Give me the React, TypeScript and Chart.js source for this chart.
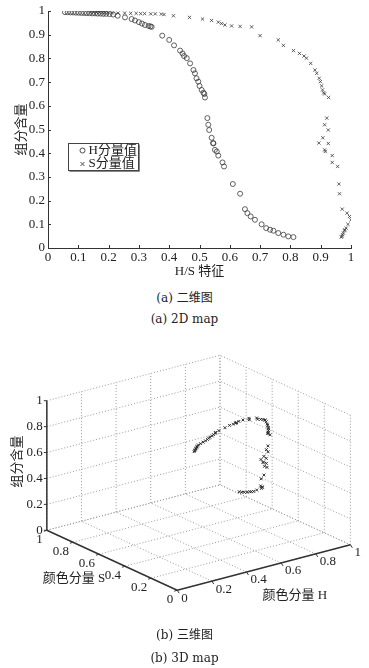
import React, { useEffect, useRef } from 'react';
import { Chart, registerables } from 'chart.js';

Chart.register(...registerables);

// ---------------- data (one entry per sample) ----------------
const content = [
  0.995, 0.995, 0.994, 0.994, 0.993, 0.993, 0.992, 0.992, 0.991, 0.991,
  0.990, 0.990, 0.989, 0.989, 0.988, 0.988, 0.987, 0.985,
  0.980, 0.973, 0.966, 0.960, 0.953, 0.947, 0.941, 0.937, 0.935, 0.933,
  0.896, 0.878, 0.855, 0.833, 0.821, 0.810, 0.801, 0.779, 0.751, 0.737,
  0.716, 0.702, 0.684, 0.667, 0.655, 0.650, 0.635,
  0.548, 0.520, 0.498, 0.465, 0.443, 0.441, 0.414, 0.407, 0.390, 0.361,
  0.344, 0.270, 0.229, 0.164, 0.147, 0.133, 0.119, 0.100, 0.084, 0.077,
  0.073, 0.063, 0.056, 0.049, 0.046,
];
const hValues = [
  0.056, 0.065, 0.074, 0.083, 0.092, 0.101, 0.110, 0.119, 0.128, 0.137,
  0.146, 0.155, 0.164, 0.173, 0.182, 0.192, 0.203, 0.215,
  0.230, 0.254, 0.276, 0.287, 0.300, 0.310, 0.320, 0.332, 0.338, 0.342,
  0.377, 0.400, 0.416, 0.436, 0.444, 0.449, 0.458, 0.469, 0.480, 0.485,
  0.490, 0.496, 0.500, 0.507, 0.513, 0.516, 0.518,
  0.526, 0.529, 0.532, 0.540, 0.545, 0.546, 0.551, 0.557, 0.562, 0.576,
  0.581, 0.610, 0.634, 0.650, 0.658, 0.669, 0.683, 0.705, 0.720, 0.733,
  0.744, 0.760, 0.777, 0.793, 0.810,
];
const sValues = [
  0.140, 0.150, 0.160, 0.170, 0.180, 0.190, 0.200, 0.212, 0.231, 0.253,
  0.273, 0.291, 0.306, 0.319, 0.339, 0.354, 0.374, 0.383,
  0.414, 0.467, 0.510, 0.540, 0.562, 0.573, 0.584, 0.606, 0.634, 0.672,
  0.700, 0.760, 0.777, 0.810, 0.830, 0.845, 0.853, 0.867, 0.881, 0.887,
  0.895, 0.899, 0.903, 0.906, 0.910, 0.913, 0.926,
  0.920, 0.913, 0.925, 0.907, 0.894, 0.925, 0.913, 0.915, 0.938, 0.938,
  0.956, 0.960, 0.962, 0.971, 0.987, 0.995, 1.000, 0.990, 0.984, 0.980,
  0.978, 0.975, 0.972, 0.970, 0.968,
];

const ticks2D = [0, 0.1, 0.2, 0.3, 0.4, 0.5, 0.6, 0.7, 0.8, 0.9, 1];
const tickLabels2D = ['0', '0.1', '0.2', '0.3', '0.4', '0.5', '0.6', '0.7', '0.8', '0.9', '1'];
const ticks3D = [0, 0.2, 0.4, 0.6, 0.8, 1];
const tickLabels3D = ['0', '0.2', '0.4', '0.6', '0.8', '1'];

const seriesNames = ['H分量值', 'S分量值'];
const xTitle2D = 'H/S 特征';
const yTitle = '组分含量';
const axisTitleH = '颜色分量 H';
const axisTitleS = '颜色分量 S';
const captions = ['(a) 二维图', '(a) 2D map', '(b) 三维图', '(b) 3D map'];

// ---------------- styles / layout ----------------
const FONT = "'Liberation Serif', 'Noto Sans CJK SC', serif";
const CAP_FONT = "'DejaVu Serif', 'Noto Sans CJK SC', serif";
const INK = '#333333';
const TEXT = '#222222';

const W = 369;
const TOP_H = 285;
const B_TOP = 330;
const B_H = 300;

// 3D view: origin and projected unit vectors (page px)
const O3 = { x: 177, y: 594 };
const AX_A = { x: 178, y: -47 }; // right floor axis
const AX_B = { x: -134, y: -62 }; // left floor axis
const AX_Z = -134;
function proj(a: number, b: number, z: number) {
  return { x: O3.x + AX_A.x * a + AX_B.x * b, y: O3.y + AX_A.y * a + AX_B.y * b + AX_Z * z };
}

const tickPlugin2D = {
  id: 'inTicks',
  afterDraw(chart: any) {
    const { ctx, chartArea } = chart;
    const xs = chart.scales.x, ys = chart.scales.y;
    ctx.save();
    ctx.strokeStyle = INK;
    ctx.lineWidth = 1;
    ctx.beginPath();
    ticks2D.forEach((t) => {
      const px = Math.round(xs.getPixelForValue(t)) + 0.5;
      ctx.moveTo(px, chartArea.bottom);
      ctx.lineTo(px, chartArea.bottom - 3);
      const py = Math.round(ys.getPixelForValue(t)) + 0.5;
      ctx.moveTo(chartArea.left, py);
      ctx.lineTo(chartArea.left + 3, py);
    });
    ctx.stroke();
    ctx.restore();
  },
};

const legendPlugin2D = {
  id: 'boxLegend',
  afterDraw(chart: any) {
    const { ctx } = chart;
    const xs = chart.scales.x, ys = chart.scales.y;
    // legend box anchored in data space
    const x0 = Math.round(xs.getPixelForValue(0.065)) + 0.5;
    const y0 = Math.round(ys.getPixelForValue(0.445)) + 0.5;
    const w = 70, h = 27;
    ctx.save();
    ctx.fillStyle = '#ffffff';
    ctx.fillRect(x0, y0, w, h);
    ctx.strokeStyle = '#444';
    ctx.lineWidth = 1;
    ctx.strokeRect(x0, y0, w, h);
    ctx.strokeStyle = '#888';
    ctx.beginPath();
    ctx.moveTo(x0 + 1, y0 + h + 1);
    ctx.lineTo(x0 + w + 1, y0 + h + 1);
    ctx.lineTo(x0 + w + 1, y0 + 1);
    ctx.stroke();
    chart.data.datasets.forEach((ds: any, i: number) => {
      const cy = y0 + 7 + i * 13.5;
      const cx = x0 + 14;
      ctx.strokeStyle = ds.borderColor;
      ctx.lineWidth = 0.9;
      ctx.beginPath();
      if (ds.pointStyle === 'circle') {
        ctx.arc(cx, cy, 2.5, 0, Math.PI * 2);
      } else {
        ctx.moveTo(cx - 2, cy - 2);
        ctx.lineTo(cx + 2, cy + 2);
        ctx.moveTo(cx + 2, cy - 2);
        ctx.lineTo(cx - 2, cy + 2);
      }
      ctx.stroke();
      ctx.fillStyle = TEXT;
      ctx.font = `13px ${FONT}`;
      ctx.textBaseline = 'middle';
      ctx.textAlign = 'left';
      ctx.fillText(ds.label, x0 + 20, cy);
    });
    ctx.restore();
  },
};

function TwoDChart() {
  const ref = useRef<HTMLCanvasElement>(null);
  useEffect(() => {
    const hPts = content.map((c, i) => ({ x: hValues[i], y: c }));
    const sPts = content.map((c, i) => ({ x: sValues[i], y: c }));
    const tickFont = { family: FONT, size: 13 };
    const chart = new Chart(ref.current as HTMLCanvasElement, {
      type: 'scatter',
      data: {
        datasets: [
          {
            label: seriesNames[0],
            data: hPts,
            pointStyle: 'circle',
            pointRadius: 2.5,
            borderColor: '#3a3a3a',
            backgroundColor: 'rgba(0,0,0,0)',
            borderWidth: 0.8,
          },
          {
            label: seriesNames[1],
            data: sPts,
            pointStyle: 'crossRot',
            pointRadius: 2.3,
            borderColor: '#3a3a3a',
            backgroundColor: 'rgba(0,0,0,0)',
            borderWidth: 0.8,
          },
        ],
      },
      options: {
        responsive: false,
        animation: false,
        devicePixelRatio: 1,
        layout: { padding: { left: 14, top: 11, right: 18, bottom: 6 } },
        plugins: { legend: { display: false }, tooltip: { enabled: false } },
        scales: {
          x: {
            type: 'linear',
            min: 0,
            max: 1,
            afterFit: (s: any) => { s.height = 31; },
            afterBuildTicks: (s: any) => { s.ticks = ticks2D.map((v) => ({ value: v })); },
            ticks: {
              callback: (_v: any, i: number) => tickLabels2D[i],
              font: tickFont,
              color: TEXT,
              padding: 2,
              maxRotation: 0,
              autoSkip: false,
            },
            grid: { drawOnChartArea: false, drawTicks: false },
            border: { color: INK, width: 1 },
            title: { display: true, text: xTitle2D, font: tickFont, color: TEXT, padding: { top: 0, bottom: 0 } },
          },
          y: {
            type: 'linear',
            min: 0,
            max: 1,
            afterFit: (s: any) => { s.width = 34; },
            afterBuildTicks: (s: any) => { s.ticks = ticks2D.map((v) => ({ value: v })); },
            ticks: {
              callback: (_v: any, i: number) => tickLabels2D[i],
              font: tickFont,
              color: TEXT,
              padding: 3,
              autoSkip: false,
            },
            grid: { drawOnChartArea: false, drawTicks: false },
            border: { color: INK, width: 1 },
            title: { display: true, text: yTitle, font: tickFont, color: TEXT, padding: { top: 0, bottom: 0 } },
          },
        },
      },
      plugins: [tickPlugin2D, legendPlugin2D],
    } as any);
    return () => chart.destroy();
  }, []);
  return (
    <canvas
      ref={ref}
      width={W}
      height={TOP_H}
      style={{ position: 'absolute', left: 0, top: 0, width: W, height: TOP_H }}
    />
  );
}

const box3DPlugin = {
  id: 'box3d',
  beforeDatasetsDraw(chart: any) {
    const { ctx } = chart;
    const xs = chart.scales.x, ys = chart.scales.y;
    const P = (a: number, b: number, z: number) => {
      const p = proj(a, b, z);
      return [xs.getPixelForValue(p.x), ys.getPixelForValue(p.y)];
    };
    const seg = (p: number[], q: number[]) => {
      ctx.moveTo(p[0], p[1]);
      ctx.lineTo(q[0], q[1]);
    };
    ctx.save();
    // dotted grid on floor and two back walls
    ctx.strokeStyle = '#9a9a9a';
    ctx.lineWidth = 1;
    ctx.setLineDash([1, 2]);
    ctx.beginPath();
    ticks3D.forEach((t) => {
      seg(P(t, 0, 0), P(t, 1, 0));
      seg(P(0, t, 0), P(1, t, 0));
      seg(P(t, 1, 0), P(t, 1, 1));
      seg(P(0, 1, t), P(1, 1, t));
      seg(P(1, t, 0), P(1, t, 1));
      seg(P(1, 0, t), P(1, 1, t));
    });
    ctx.stroke();
    ctx.setLineDash([]);
    // axes
    ctx.strokeStyle = INK;
    ctx.lineWidth = 1.5;
    ctx.beginPath();
    seg(P(0, 1, 0), P(0, 1, 1));
    seg(P(0, 0, 0), P(0, 1, 0));
    seg(P(0, 0, 0), P(1, 0, 0));
    ctx.stroke();
    // tick marks
    ctx.lineWidth = 1;
    ctx.beginPath();
    ticks3D.forEach((t) => {
      const pz = P(0, 1, t);
      ctx.moveTo(pz[0], pz[1]);
      ctx.lineTo(pz[0] - 3, pz[1]);
      const pb = P(0, t, 0);
      ctx.moveTo(pb[0], pb[1]);
      ctx.lineTo(pb[0] - 3, pb[1] + 1);
      const pa = P(t, 0, 0);
      ctx.moveTo(pa[0], pa[1]);
      ctx.lineTo(pa[0] + 2, pa[1] + 3);
    });
    ctx.stroke();
    // tick labels
    ctx.fillStyle = TEXT;
    ctx.font = `13px ${FONT}`;
    ctx.textBaseline = 'middle';
    ticks3D.forEach((t, i) => {
      const pz = P(0, 1, t);
      ctx.textAlign = 'right';
      ctx.fillText(tickLabels3D[i], pz[0] - 4, pz[1]);
      const pb = P(0, t, 0);
      ctx.fillText(tickLabels3D[i], pb[0] - 4, pb[1] + 9);
      const pa = P(t, 0, 0);
      ctx.textAlign = 'left';
      ctx.fillText(tickLabels3D[i], pa[0] + 4, pa[1] + 8);
    });
    // axis titles
    ctx.textAlign = 'center';
    const pS = P(0, 0.5, 0);
    ctx.fillText(axisTitleS, pS[0] - 38, pS[1] + 18);
    const pH = P(0.5, 0, 0);
    ctx.fillText(axisTitleH, pH[0] + 31, pH[1] + 28);
    const pZ = P(0, 1, 0.5);
    ctx.translate(pZ[0] - 29, pZ[1] - 4);
    ctx.rotate(-Math.PI / 2);
    ctx.fillText(yTitle, 0, 0);
    ctx.restore();
  },
};

function ThreeDChart() {
  const ref = useRef<HTMLCanvasElement>(null);
  useEffect(() => {
    // right floor axis (labelled H) carries the S series, left one the H series, as drawn in the figure
    const pts = content.map((c, i) => proj(sValues[i], hValues[i], c));
    const chart = new Chart(ref.current as HTMLCanvasElement, {
      type: 'scatter',
      data: {
        datasets: [
          {
            data: pts,
            pointStyle: 'crossRot',
            pointRadius: 2,
            borderColor: '#2e2e2e',
            backgroundColor: 'rgba(0,0,0,0)',
            borderWidth: 1,
          },
        ],
      },
      options: {
        responsive: false,
        animation: false,
        devicePixelRatio: 1,
        layout: { padding: 0 },
        plugins: { legend: { display: false }, tooltip: { enabled: false } },
        scales: {
          x: { type: 'linear', display: false, min: 0, max: W },
          y: { type: 'linear', display: false, min: B_TOP, max: B_TOP + B_H, reverse: true },
        },
      },
      plugins: [box3DPlugin],
    } as any);
    return () => chart.destroy();
  }, []);
  return (
    <canvas
      ref={ref}
      width={W}
      height={B_H}
      style={{ position: 'absolute', left: 0, top: B_TOP, width: W, height: B_H }}
    />
  );
}

function Caption({ text, y }: { text: string; y: number }) {
  return (
    <div
      style={{
        position: 'absolute',
        left: 0,
        top: y - 9,
        width: W,
        height: 18,
        lineHeight: '18px',
        textAlign: 'center',
        fontFamily: CAP_FONT,
        fontSize: 12,
        color: TEXT,
        whiteSpace: 'nowrap',
      }}
    >
      {text}
    </div>
  );
}

export default function App() {
  return (
    <div style={{ position: 'absolute', left: 0, top: 0, width: W, height: 668, background: '#ffffff', overflow: 'hidden' }}>
      <TwoDChart />
      <Caption text={captions[0]} y={298} />
      <Caption text={captions[1]} y={319} />
      <ThreeDChart />
      <Caption text={captions[2]} y={635} />
      <Caption text={captions[3]} y={658} />
    </div>
  );
}
